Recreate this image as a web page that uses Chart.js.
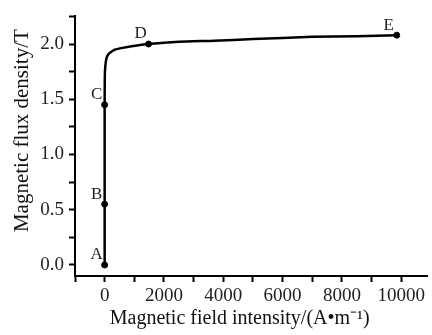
<!DOCTYPE html>
<html>
<head>
<meta charset="utf-8">
<script src="https://cdn.jsdelivr.net/npm/chart.js@4.4.0/dist/chart.umd.min.js"></script>
<style>
  html, body { margin: 0; padding: 0; background: #fff; }
  #wrap { width: 432px; height: 335px; }
</style>
</head>
<body>
<div id="wrap"><canvas id="bh"></canvas></div>
<script>
// labelled points on the B-H curve
const pointNames = ['A', 'B', 'C', 'D', 'E'];
const pointH = [0, 0, 0, 1480, 9850];
const pointB = [0, 0.55, 1.45, 2.0, 2.08];

// magnetisation curve
const curveH = [0, 0, 0, 5, 20, 60, 133, 250, 356, 600, 910, 1480, 2500, 3700, 5000, 7000, 8500, 9850];
const curveB = [0, 0.55, 1.45, 1.70, 1.79, 1.87, 1.91, 1.935, 1.95, 1.965, 1.98, 2.0, 2.02, 2.03, 2.045, 2.065, 2.07, 2.08];

// x ticks every 1000, labelled every 2000
const xTicks = [-1000, 0, 1000, 2000, 3000, 4000, 5000, 6000, 7000, 8000, 9000, 10000];
const xTickLabels = ['', '0', '', '2000', '', '4000', '', '6000', '', '8000', '', '10000'];

const xTitle = 'Magnetic field intensity/(A•m⁻¹)';
const yTitle = 'Magnetic flux density/T';

const serif = 'Liberation Serif';

// draw A..E next to their points, and the two axis titles
const annotate = {
  id: 'annotate',
  afterDatasetsDraw(chart) {
    const meta = chart.getDatasetMeta(1);
    const ctx = chart.ctx;
    const area = chart.chartArea;
    ctx.save();
    ctx.font = '17px "' + serif + '"';
    ctx.fillStyle = '#222';
    ctx.textAlign = 'center';
    ctx.textBaseline = 'middle';
    meta.data.forEach((pt, i) => {
      ctx.fillText(pointNames[i], pt.x - 8, pt.y - 10);
    });

    ctx.fillStyle = '#111';
    ctx.font = '20px "' + serif + '"';
    ctx.fillText(xTitle, area.left + area.width * 0.468, chart.height - 16);

    ctx.font = '21px "' + serif + '"';
    ctx.translate(22, area.top + area.height * 0.44);
    ctx.rotate(-Math.PI / 2);
    ctx.fillText(yTitle, 0, 0);
    ctx.restore();
  }
};

new Chart('bh', {
  type: 'scatter',
  data: {
    datasets: [{
      data: curveH.map((h, i) => ({ x: h, y: curveB[i] })),
      showLine: true,
      borderColor: '#000',
      borderWidth: 2.5,
      pointRadius: 0,
      tension: 0.2
    }, {
      data: pointH.map((h, i) => ({ x: h, y: pointB[i] })),
      showLine: false,
      pointRadius: 3,
      backgroundColor: '#000',
      borderColor: '#000'
    }]
  },
  options: {
    responsive: true,
    maintainAspectRatio: false,
    animation: false,
    layout: { padding: { top: 3, right: 0, left: 0, bottom: 0 } },
    plugins: { legend: { display: false }, tooltip: { enabled: false } },
    scales: {
      x: {
        min: -1000,
        max: 10870,
        afterBuildTicks(s) { s.ticks = xTicks.map(v => ({ value: v })); },
        afterFit(s) { s.height = 59; },
        border: { color: '#000', width: 2 },
        grid: { drawOnChartArea: false, tickLength: 6, tickColor: '#000', tickWidth: 2 },
        ticks: {
          autoSkip: false,
          maxRotation: 0,
          padding: 3,
          color: '#222',
          font: { family: serif, size: 19 },
          callback: (v, i) => xTickLabels[i]
        }
      },
      y: {
        min: -0.1,
        max: 2.25,
        afterFit(s) { s.width = 75; },
        border: { color: '#000', width: 2 },
        grid: { drawOnChartArea: false, tickLength: 6, tickColor: '#000', tickWidth: 2 },
        ticks: {
          stepSize: 0.25,
          maxTicksLimit: 20,
          includeBounds: false,
          autoSkip: false,
          padding: 5,
          color: '#222',
          font: { family: serif, size: 19 },
          callback: v => (Math.round(v * 4) % 2 === 0) ? v.toFixed(1) : ''
        }
      }
    }
  },
  plugins: [annotate]
});
</script>
</body>
</html>
